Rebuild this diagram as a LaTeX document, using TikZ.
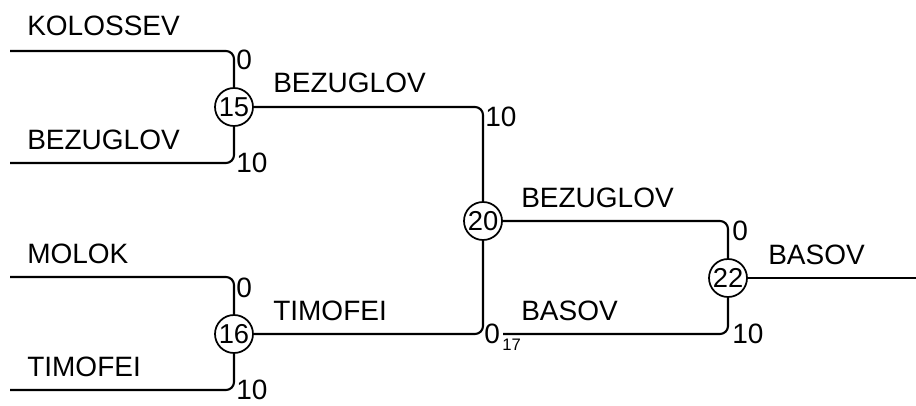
\documentclass[tikz,border=0pt]{standalone}
\usepackage{fontspec}
\setmainfont{Liberation Sans}
\begin{document}
\begin{tikzpicture}[x=0.75pt,y=-0.75pt,
  wire/.style={line width=1.6pt, rounded corners=6pt},
  score/.style={circle, draw, line width=1.3pt, minimum size=28.5pt, inner sep=0pt, font=\fontsize{20.5}{22}\selectfont},
  lbl/.style={anchor=base west, inner sep=0pt, font=\fontsize{21}{23}\selectfont},
  pts/.style={anchor=base west, inner sep=0pt, font=\fontsize{21}{23}\selectfont},
  sub/.style={anchor=base west, inner sep=0pt, font=\fontsize{12.5}{14}\selectfont}]
\useasboundingbox (0,0) rectangle (916,406);
% circles
\node[score] (c15) at (234,107) {15};
\node[score] (c16) at (234,334) {16};
\node[score] (c20) at (483,221) {20};
\node[score] (c22) at (728,278) {22};
% free ends
\coordinate (kol) at (10,51);
\coordinate (bez) at (10,163);
\coordinate (mol) at (10,277);
\coordinate (tim) at (10,390);
\coordinate (bas) at (503,334);
\coordinate (fin) at (916,278);
% wires
\draw[wire] (kol) -| (c15.north);
\draw[wire] (bez) -| (c15.south);
\draw[wire] (mol) -| (c16.north);
\draw[wire] (tim) -| (c16.south);
\draw[wire] (c15.east) -| (c20.north);
\draw[wire] (c16.east) -| (c20.south);
\draw[wire] (c20.east) -| (c22.north);
\draw[wire] (bas) -| (c22.south);
\draw[line width=1.6pt] (c22.east) -- (fin);
% names
\node[lbl] (n1) at (27,36) {KOLOSSEV};
\node[lbl] (n2) at (27,149) {BEZUGLOV};
\node[lbl] (n3) at (27,263) {MOLOK};
\node[lbl] (n4) at (27,376) {TIMOFEI};
\node[lbl] (n5) at (273,93) {BEZUGLOV};
\node[lbl] (n6) at (273,320) {TIMOFEI};
\node[lbl] (n7) at (521,207) {BEZUGLOV};
\node[lbl] (n8) at (521,320) {BASOV};
\node[lbl] (n9) at (768,264) {BASOV};
% points
\node[pts] (p1) at (236,70) {0};
\node[pts] (p2) at (236,172) {10};
\node[pts] (p3) at (236,297) {0};
\node[pts] (p4) at (236,399) {10};
\node[pts] (p5) at (485,127) {10};
\node[pts] (p6) at (484,343) {0};
\node[sub] (p7) at (502,350) {17};
\node[pts] (p8) at (732,240) {0};
\node[pts] (p9) at (732,343) {10};
\end{tikzpicture}
\end{document}
